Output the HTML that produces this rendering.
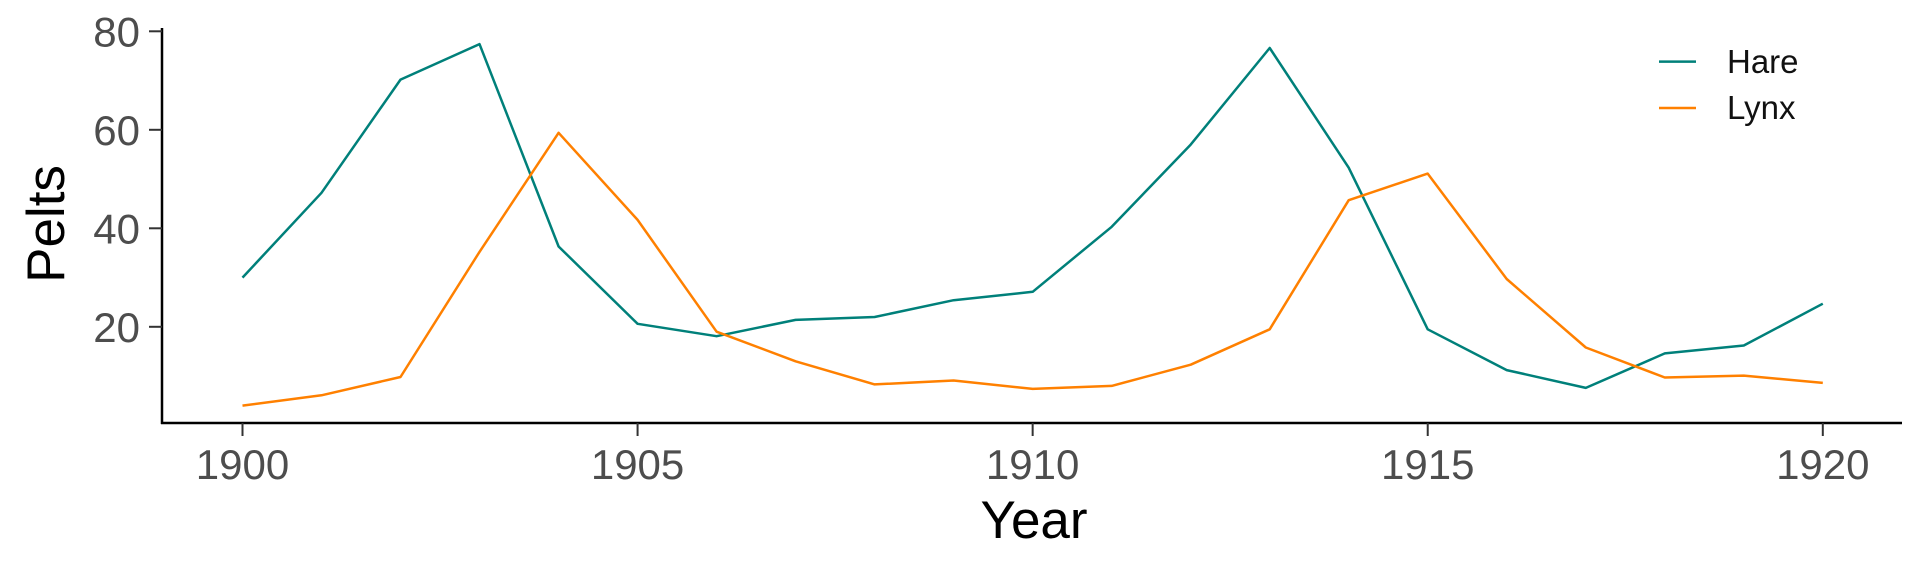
<!DOCTYPE html>
<html><head><meta charset="utf-8"><style>
html,body{margin:0;padding:0;background:#fff;}
svg{display:block;font-family:"Liberation Sans",sans-serif;}
</style></head><body>
<svg id="chart" width="1920" height="576" viewBox="0 0 1920 576" xmlns="http://www.w3.org/2000/svg">
<g id="axes"></g><g id="series"></g>
<g>
<line x1="1659" x2="1696" y1="61.6" y2="61.6" stroke="#00807a" stroke-width="2.5"/>
<text x="1727" y="73" font-size="33" fill="#111">Hare</text>
<line x1="1659" x2="1696" y1="108" y2="108" stroke="#ff8000" stroke-width="2.5"/>
<text x="1727" y="119" font-size="33" fill="#111">Lynx</text>
</g>
<text x="1034" y="538" font-size="53" text-anchor="middle" fill="#000">Year</text>
<text transform="translate(64,224) rotate(-90)" font-size="53" text-anchor="middle" fill="#000">Pelts</text>
</svg>
<script>
const years=[1900,1901,1902,1903,1904,1905,1906,1907,1908,1909,1910,1911,1912,1913,1914,1915,1916,1917,1918,1919,1920];
const hare=[30,47.2,70.2,77.4,36.3,20.6,18.1,21.4,22,25.4,27.1,40.3,57,76.6,52.3,19.5,11.2,7.6,14.6,16.2,24.7];
const lynx=[4,6.1,9.8,35.2,59.4,41.7,19,13,8.3,9.1,7.4,8,12.3,19.5,45.7,51.1,29.7,15.8,9.7,10.1,8.6];
const xTicks=[1900,1905,1910,1915,1920];
const yTicks=[20,40,60,80];
const NS="http://www.w3.org/2000/svg";
function xs(v){return 242.5+(v-1900)*(1822.8-242.5)/20;}
function ys(v){return 425.3-v*4.925;}
function mk(tag,attrs,parent){const e=document.createElementNS(NS,tag);for(const k in attrs)e.setAttribute(k,attrs[k]);parent.appendChild(e);return e;}
const axes=document.getElementById('axes');
let e=mk('line',{x1:162,x2:162,y1:28,y2:424,stroke:'#000','stroke-width':2.5},axes);


e=mk('line',{x1:161,x2:1902,y1:423,y2:423,stroke:'#000','stroke-width':2.5},axes);


yTicks.forEach(t=>{
 const y=ys(t);
 let l=mk('line',{x1:149,x2:162,y1:y,y2:y,stroke:'#333','stroke-width':2},axes);
 
 
 let tx=mk('text',{x:140,y:y+15,'font-size':42,'text-anchor':'end',fill:'#4d4d4d'},axes);
 tx.textContent=t;
 
 
});
xTicks.forEach(t=>{
 const x=xs(t);
 let l=mk('line',{x1:x,x2:x,y1:423,y2:436,stroke:'#333','stroke-width':2},axes);
 
 
 let tx=mk('text',{x:x,y:479,'font-size':42,'text-anchor':'middle',fill:'#4d4d4d'},axes);
 tx.textContent=t;
 
 
});
const series=document.getElementById('series');
function line(vals,color,name){
 const d=vals.map((v,i)=>(i?'L':'M')+xs(years[i]).toFixed(1)+' '+ys(v).toFixed(1)).join(' ');
 const p=mk('path',{d:d,fill:'none',stroke:color,'stroke-width':2.5,'stroke-linejoin':'round'},series);
 
 
}
line(hare,'#00807a','hare-line');
line(lynx,'#ff8000','lynx-line');
</script>
</body></html>
